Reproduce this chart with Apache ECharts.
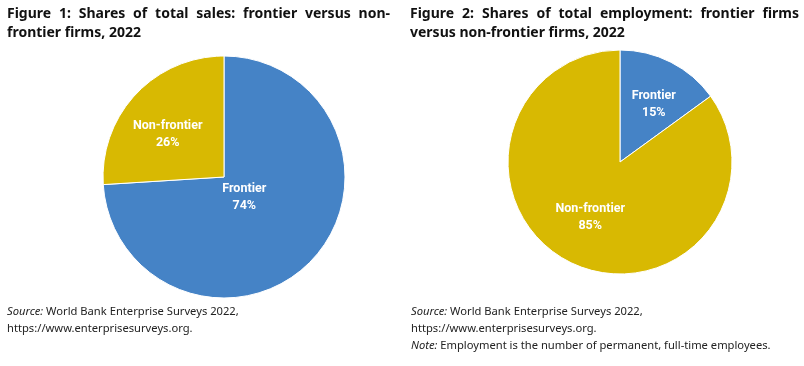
<!DOCTYPE html>
<html><head><meta charset="utf-8">
<script src="https://cdn.jsdelivr.net/npm/echarts@6/dist/echarts.min.js"></script>
<style>html,body{margin:0;padding:0;background:#fff}#c{width:804px;height:366px}</style>
</head><body><div id="c"></div>
<script>
const categories = ['Frontier', 'Non-frontier'];
const salesShares = [74, 26];
const employmentShares = [15, 85];
const title1 = ['Figure 1: Shares of total sales: frontier versus non-', 'frontier firms, 2022'];
const title2 = ['Figure 2: Shares of total employment: frontier firms', 'versus non-frontier firms, 2022'];
const source1 = ['World Bank Enterprise Surveys 2022,', 'https://www.enterprisesurveys.org.'];
const note2 = 'Employment is the number of permanent, full-time employees.';

const BLUE = '#4583C6', GOLD = '#D8B902';
const chart = echarts.init(document.getElementById('c'), null, {renderer: 'canvas'});

const TFONT = 'bold 14px "Noto Sans"';
const titleStyle = {fontFamily: 'Noto Sans', fontWeight: 'bold', fontSize: 14, color: '#111'};
const ctx = document.createElement('canvas').getContext('2d');
ctx.font = TFONT;
// justified line: distribute words across [x0, x1]
function justified(line, x0, x1, top) {
  const words = line.split(' ');
  const widths = words.map(w => ctx.measureText(w).width);
  const total = widths.reduce((a, b) => a + b, 0);
  const gap = (x1 - x0 - total) / (words.length - 1);
  let x = x0;
  return words.map((w, i) => {
    const t = {text: w, left: x - 5, top: top, textStyle: titleStyle};
    x += widths[i] + gap;
    return t;
  });
}

const srcBase = {fontFamily: 'Noto Sans', fontSize: 11.2, color: '#222', lineHeight: 17, fontWeight: 'normal'};
const srcRich = {
  it: Object.assign({}, srcBase, {fontStyle: 'italic'}),
  n: srcBase
};
const labelStyle = {
  show: true, position: 'inside', color: '#fff', fontFamily: 'Roboto',
  fontWeight: 'bold', fontSize: 12.5, lineHeight: 17,
  formatter: p => p.name + '\n' + p.value + '%'
};
const offs1 = [[-26, -23], [-10, 1]];
const offs2 = [[7, -5], [-3, 3]];

chart.setOption({
  animation: false,
  title: [].concat(
    justified(title1[0], 7, 390, 2),
    [{text: title1[1], left: 2, top: 21, textStyle: titleStyle}],
    justified(title2[0], 410, 799, 2),
    [{text: title2[1], left: 405, top: 21, textStyle: titleStyle},
     {text: '{it|Source:}{n| ' + source1[0] + '}\n{n|' + source1[1] + '}', left: 2, top: 298, textStyle: {fontWeight: 'normal', rich: srcRich}},
     {text: '{it|Source:}{n| ' + source1[0] + '}\n{n|' + source1[1] + '}\n{it|Note:}{n| ' + note2 + '}', left: 406, top: 298, textStyle: {fontWeight: 'normal', rich: srcRich}}]
  ),
  series: [
    {
      type: 'pie', center: [224, 177], radius: 121, startAngle: 90, clockwise: true,
      itemStyle: {borderColor: '#fff', borderWidth: 1},
      label: labelStyle, labelLine: {show: false},
      labelLayout: p => ({dx: offs1[p.dataIndex][0], dy: offs1[p.dataIndex][1]}),
      data: categories.map((c, i) => ({name: c, value: salesShares[i], itemStyle: {color: i === 0 ? BLUE : GOLD}}))
    },
    {
      type: 'pie', center: [620, 162], radius: 112, startAngle: 90, clockwise: true,
      itemStyle: {borderColor: '#fff', borderWidth: 1},
      label: labelStyle, labelLine: {show: false},
      labelLayout: p => ({dx: offs2[p.dataIndex][0], dy: offs2[p.dataIndex][1]}),
      data: categories.map((c, i) => ({name: c, value: employmentShares[i], itemStyle: {color: i === 0 ? BLUE : GOLD}}))
    }
  ]
});
</script></body></html>
